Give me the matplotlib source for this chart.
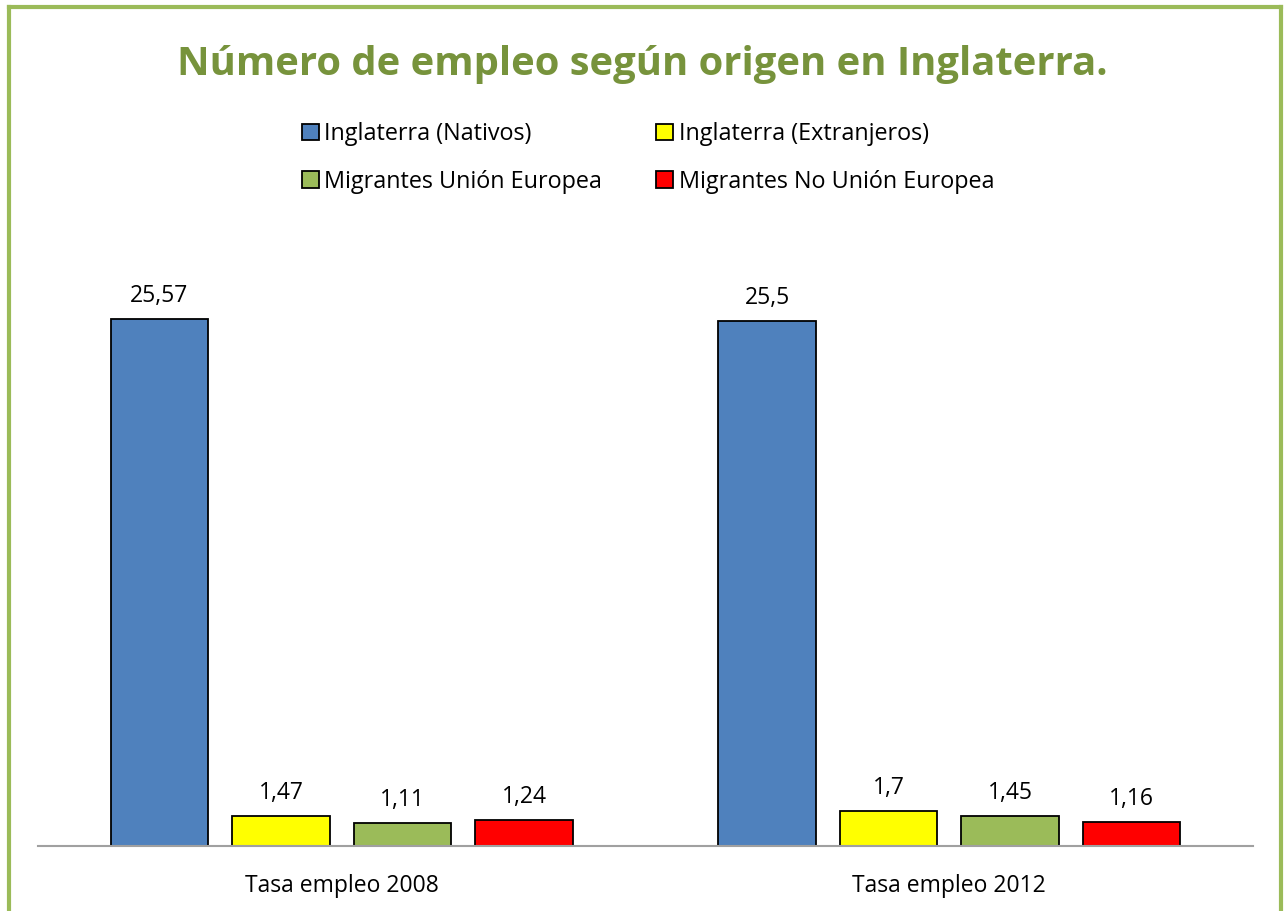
import matplotlib
matplotlib.use("Agg")
import matplotlib.pyplot as plt
from matplotlib.lines import Line2D
from matplotlib.patches import Patch
import numpy as np

categories = ["Tasa empleo 2008", "Tasa empleo 2012"]
series = ["Inglaterra (Nativos)", "Inglaterra (Extranjeros)",
          "Migrantes Unión Europea", "Migrantes No Unión Europea"]
values = [
    [25.57, 25.5],   # Nativos
    [1.47, 1.7],     # Extranjeros
    [1.11, 1.45],    # UE
    [1.24, 1.16],    # No UE
]
colors = ["#4F81BD", "#FFFF00", "#9BBB59", "#FF0000"]

plt.rcParams['font.family'] = ['Open Sans', 'DejaVu Sans']

W, H = 1284, 911
fig = plt.figure(figsize=(W / 100, H / 100), dpi=100)
ax = fig.add_axes([38 / W, 1 - 846 / H, (1253 - 38) / W, (846 - 228) / H])

x = np.arange(len(categories))
step = 0.2
width = 0.161
for i, (name, vals, c) in enumerate(zip(series, values, colors)):
    bars = ax.bar(x + (i - 1.5) * step, vals, width, color=c,
                  edgecolor="black", linewidth=1.3, label=name)
    labels = [("%g" % v).replace(".", ",") for v in vals]
    ax.bar_label(bars, labels=labels, padding=8, fontsize=16.5)

ax.set_xlim(-0.5, 1.5)
ax.set_ylim(0, 30)
ax.set_xticks(x)
ax.set_xticklabels(categories, fontsize=16.5)
ax.tick_params(axis="x", length=0, pad=20)
ax.set_yticks([])
for s in ["left", "right", "top"]:
    ax.spines[s].set_visible(False)
ax.spines["bottom"].set_color("#A0A0A0")
ax.spines["bottom"].set_linewidth(1.5)

fig.text(0.5, 1 - 65 / H, "Número de empleo según origen en Inglaterra.",
         ha="center", va="center", fontsize=28.8, fontweight="bold",
         color="#77933C")

# legend is filled column-wise, so reorder to get row-wise reading
order = [0, 2, 1, 3]
handles = [Patch(facecolor=colors[k], edgecolor="black", linewidth=1.3) for k in order]
fig.legend(handles, [series[k] for k in order], ncol=2, loc="upper center",
           bbox_to_anchor=(648 / W, 1 - 106 / H), frameon=False, fontsize=16.8,
           handlelength=0.72, handleheight=0.72, handletextpad=0.25,
           columnspacing=2.3, labelspacing=1.0, borderpad=0.2)

# green frame around chart (bottom runs off the image)
g = "#9BBB59"
fig.add_artist(Line2D([9 / W, 9 / W], [0, 1 - 7 / H], color=g, lw=3))
fig.add_artist(Line2D([9 / W, 1281 / W], [1 - 7 / H, 1 - 7 / H], color=g, lw=3))
fig.add_artist(Line2D([1281 / W, 1281 / W], [0, 1 - 7 / H], color=g, lw=3))

fig.savefig("out.png", dpi=100)
